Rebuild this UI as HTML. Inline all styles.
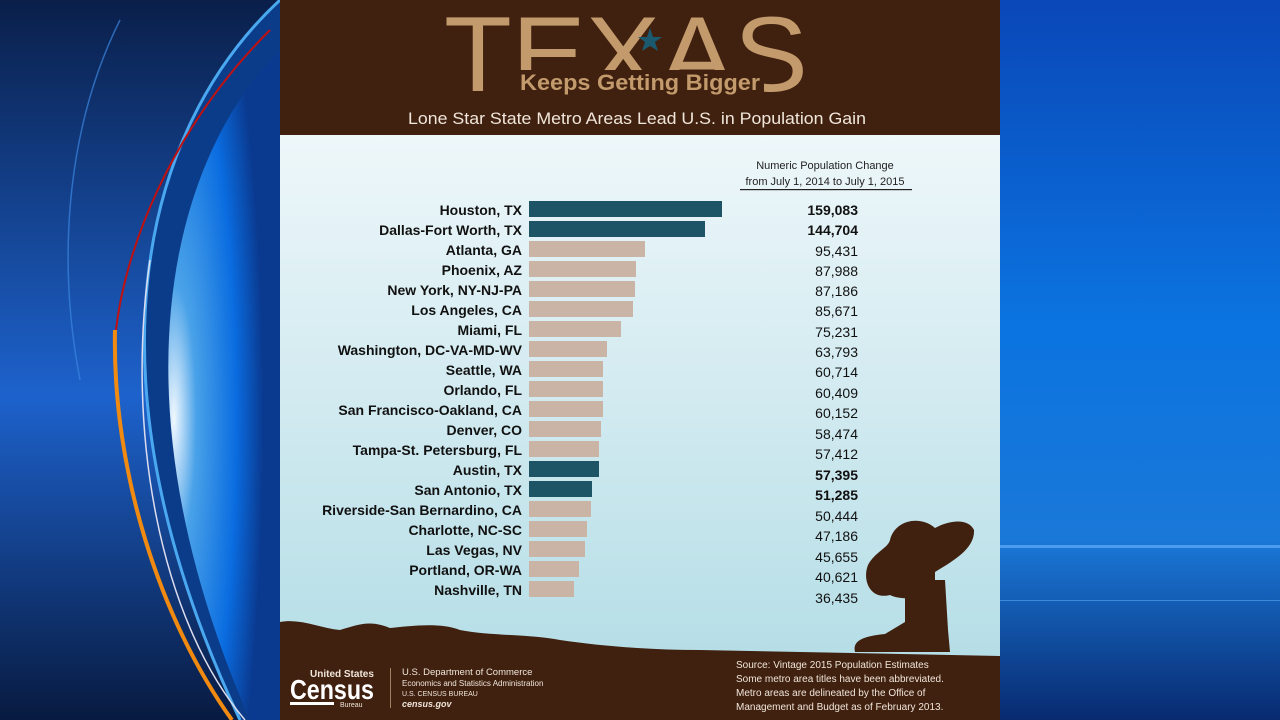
<!DOCTYPE html>
<html><head><meta charset="utf-8"><style>
html,body{margin:0;padding:0;width:1280px;height:720px;overflow:hidden;background:#0a2a6a}
svg{display:block}
text{font-family:"Liberation Sans",sans-serif}
</style></head><body>
<svg width="1280" height="720" viewBox="0 0 1280 720" xmlns="http://www.w3.org/2000/svg">
<defs>
<linearGradient id="lbg" x1="0" y1="0" x2="0" y2="1">
<stop offset="0" stop-color="#0a1f4a"/><stop offset="0.55" stop-color="#1d62cc"/><stop offset="1" stop-color="#081a40"/></linearGradient>
<radialGradient id="lin" cx="0.05" cy="0.55" r="0.8">
<stop offset="0" stop-color="#f0f8ff"/><stop offset="0.25" stop-color="#4aa2e8"/><stop offset="0.7" stop-color="#0a6ce0"/><stop offset="1" stop-color="#0a3a90"/></radialGradient>
<linearGradient id="rbg" x1="0" y1="0" x2="0" y2="1">
<stop offset="0" stop-color="#0a47b8"/><stop offset="0.45" stop-color="#0b74e0"/><stop offset="0.75" stop-color="#1a78d8"/><stop offset="1" stop-color="#082a70"/></linearGradient>
<linearGradient id="body" x1="0" y1="0" x2="0" y2="1">
<stop offset="0" stop-color="#eef7fa"/><stop offset="1" stop-color="#b4dde6"/></linearGradient>
</defs>
<rect x="0" y="0" width="280" height="720" fill="url(#lbg)"/>
<path d="M280,0 C140,130 80,380 240,720 L280,720 Z" fill="#0b3c8a"/>
<path d="M280,50 C170,160 110,400 250,720 L280,720 Z" fill="url(#lin)"/>
<path d="M280,0 C140,130 80,380 240,720" fill="none" stroke="#4aa8f0" stroke-width="3"/>
<path d="M270,30 C170,130 125,250 116,330" fill="none" stroke="#c01010" stroke-width="2"/>
<path d="M115,330 C112,470 160,620 232,720" fill="none" stroke="#f08a10" stroke-width="4"/>
<path d="M150,260 C125,430 160,620 245,720" fill="none" stroke="#dde" stroke-width="1.5"/>
<path d="M120,20 C70,120 55,250 80,380" fill="none" stroke="#3a86e0" stroke-width="1.5" opacity="0.7"/>
<rect x="1000" y="0" width="280" height="720" fill="url(#rbg)"/>
<rect x="1000" y="545" width="280" height="3" fill="#6ab8ff" opacity="0.6"/>
<rect x="1000" y="600" width="280" height="1" fill="#6ab8ff" opacity="0.5"/>

<rect x="280" y="0" width="720" height="135" fill="#40200f"/>
<rect x="280" y="135" width="720" height="540" fill="url(#body)"/>
<g transform="scale(1,1.4)">
<text x="444" y="65" font-family="Liberation Serif,serif" font-size="76" fill="#c29a6c" textLength="364" lengthAdjust="spacingAndGlyphs">TEXAS</text>
</g>
<rect x="518" y="70" width="246" height="26" fill="#40200f"/>
<text x="520" y="90" font-size="22" font-weight="bold" fill="#c29a6c" textLength="240" lengthAdjust="spacingAndGlyphs">Keeps Getting Bigger</text>
<polygon points="650,28 653,37 662,37 655,42 658,51 650,46 642,51 645,42 638,37 647,37" fill="#1b5a6e"/>
<text x="408" y="124" font-size="17" fill="#f0e6da" textLength="458" lengthAdjust="spacingAndGlyphs">Lone Star State Metro Areas Lead U.S. in Population Gain</text>
<text x="825" y="169" text-anchor="middle" font-size="11" fill="#222">Numeric Population Change</text>
<text x="825" y="185" text-anchor="middle" font-size="11" fill="#222">from July 1, 2014 to July 1, 2015</text>
<rect x="740" y="189" width="172" height="1.2" fill="#222"/>

<g font-size="14" fill="#111">
<g font-weight="bold">
<text x="522" y="215" text-anchor="end">Houston, TX</text>
<text x="522" y="235" text-anchor="end">Dallas-Fort Worth, TX</text>
<text x="522" y="255" text-anchor="end">Atlanta, GA</text>
<text x="522" y="275" text-anchor="end">Phoenix, AZ</text>
<text x="522" y="295" text-anchor="end">New York, NY-NJ-PA</text>
<text x="522" y="315" text-anchor="end">Los Angeles, CA</text>
<text x="522" y="335" text-anchor="end">Miami, FL</text>
<text x="522" y="355" text-anchor="end">Washington, DC-VA-MD-WV</text>
<text x="522" y="375" text-anchor="end">Seattle, WA</text>
<text x="522" y="395" text-anchor="end">Orlando, FL</text>
<text x="522" y="415" text-anchor="end">San Francisco-Oakland, CA</text>
<text x="522" y="435" text-anchor="end">Denver, CO</text>
<text x="522" y="455" text-anchor="end">Tampa-St. Petersburg, FL</text>
<text x="522" y="475" text-anchor="end">Austin, TX</text>
<text x="522" y="495" text-anchor="end">San Antonio, TX</text>
<text x="522" y="515" text-anchor="end">Riverside-San Bernardino, CA</text>
<text x="522" y="535" text-anchor="end">Charlotte, NC-SC</text>
<text x="522" y="555" text-anchor="end">Las Vegas, NV</text>
<text x="522" y="575" text-anchor="end">Portland, OR-WA</text>
<text x="522" y="595" text-anchor="end">Nashville, TN</text>
</g>
<g text-anchor="end">
<text x="858" y="215" font-weight="bold">159,083</text>
<text x="858" y="235" font-weight="bold">144,704</text>
<text x="858" y="256">95,431</text>
<text x="858" y="276">87,988</text>
<text x="858" y="296">87,186</text>
<text x="858" y="316">85,671</text>
<text x="858" y="337">75,231</text>
<text x="858" y="357">63,793</text>
<text x="858" y="377">60,714</text>
<text x="858" y="398">60,409</text>
<text x="858" y="418">60,152</text>
<text x="858" y="439">58,474</text>
<text x="858" y="459">57,412</text>
<text x="858" y="480" font-weight="bold">57,395</text>
<text x="858" y="500" font-weight="bold">51,285</text>
<text x="858" y="521">50,444</text>
<text x="858" y="541">47,186</text>
<text x="858" y="562">45,655</text>
<text x="858" y="582">40,621</text>
<text x="858" y="603">36,435</text>
</g>
</g>
<g>
<rect x="529" y="201" width="193" height="16" fill="#1e5566"/>
<rect x="529" y="221" width="176" height="16" fill="#1e5566"/>
<rect x="529" y="241" width="116" height="16" fill="#c9b4a6"/>
<rect x="529" y="261" width="107" height="16" fill="#c9b4a6"/>
<rect x="529" y="281" width="106" height="16" fill="#c9b4a6"/>
<rect x="529" y="301" width="104" height="16" fill="#c9b4a6"/>
<rect x="529" y="321" width="92" height="16" fill="#c9b4a6"/>
<rect x="529" y="341" width="78" height="16" fill="#c9b4a6"/>
<rect x="529" y="361" width="74" height="16" fill="#c9b4a6"/>
<rect x="529" y="381" width="74" height="16" fill="#c9b4a6"/>
<rect x="529" y="401" width="74" height="16" fill="#c9b4a6"/>
<rect x="529" y="421" width="72" height="16" fill="#c9b4a6"/>
<rect x="529" y="441" width="70" height="16" fill="#c9b4a6"/>
<rect x="529" y="461" width="70" height="16" fill="#1e5566"/>
<rect x="529" y="481" width="63" height="16" fill="#1e5566"/>
<rect x="529" y="501" width="62" height="16" fill="#c9b4a6"/>
<rect x="529" y="521" width="58" height="16" fill="#c9b4a6"/>
<rect x="529" y="541" width="56" height="16" fill="#c9b4a6"/>
<rect x="529" y="561" width="50" height="16" fill="#c9b4a6"/>
<rect x="529" y="581" width="45" height="16" fill="#c9b4a6"/>
</g>
<path d="M280,622 C300,618 320,628 340,630 C360,624 370,620 390,628 C410,626 440,622 460,630 C490,636 530,634 560,640 C600,646 650,650 700,650 L1000,656 L1000,720 L280,720 Z" fill="#40200f"/>
<g fill="#40200f">
<path d="M890,540 C895,520 920,515 935,528 C950,520 968,518 974,530 C975,548 955,560 935,572 L935,590 C920,600 900,600 890,595 C870,600 862,580 868,565 C875,552 888,548 890,540 Z"/>
<path d="M905,580 L945,580 L948,630 L950,652 L855,652 C852,640 865,636 885,634 L905,622 Z"/>
</g>
<g font-size="10" fill="#f0e6da">
<text x="736" y="668">Source: Vintage 2015 Population Estimates</text>
<text x="736" y="682">Some metro area titles have been abbreviated.</text>
<text x="736" y="696">Metro areas are delineated by the Office of</text>
<text x="736" y="710">Management and Budget as of February 2013.</text>
<text x="402" y="675" font-size="9.5">U.S. Department of Commerce</text>
<text x="402" y="686" font-size="8">Economics and Statistics Administration</text>
<text x="402" y="696" font-size="7">U.S. CENSUS BUREAU</text>
<text x="402" y="707" font-size="9" font-weight="bold" font-style="italic">census.gov</text>
<text x="310" y="677" font-size="10" font-weight="bold">United States</text>
<text x="290" y="699" font-size="28" font-weight="bold" fill="#fff" textLength="84" lengthAdjust="spacingAndGlyphs">Census</text>
<rect x="290" y="702" width="44" height="3" fill="#fff"/>
<text x="340" y="707" font-size="7">Bureau</text>
</g>
<rect x="390" y="668" width="1" height="40" fill="#a08060"/>
</svg>
</body></html>
